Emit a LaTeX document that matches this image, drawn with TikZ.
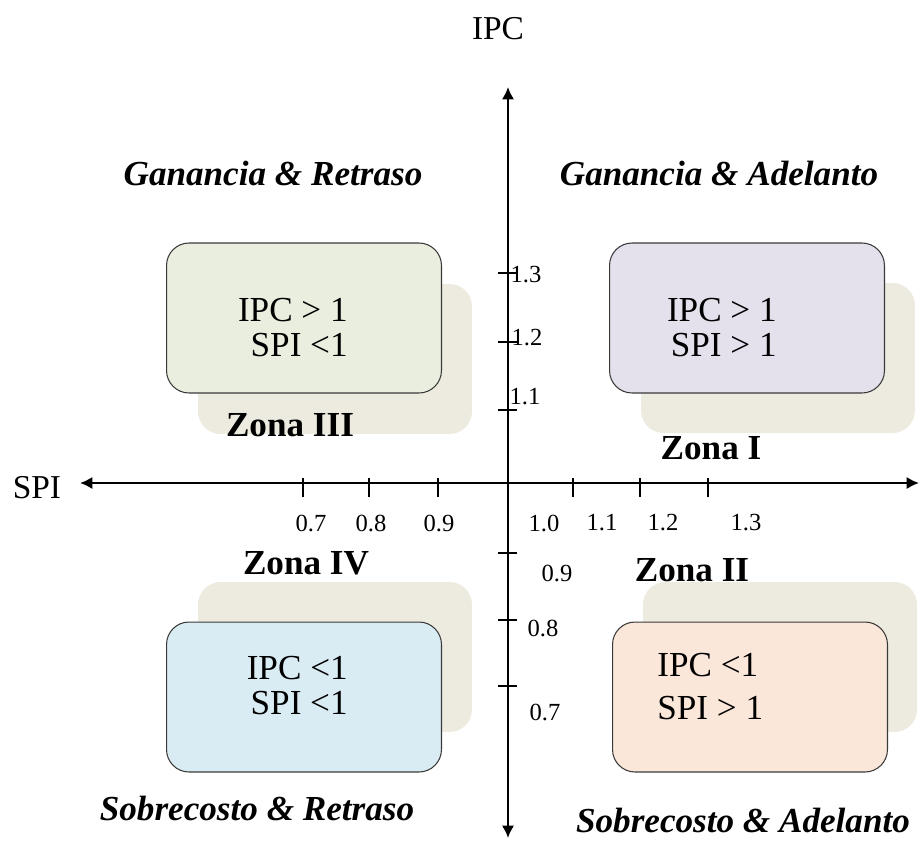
\documentclass[tikz,border=0pt]{standalone}
\usepackage{fontspec}
\setmainfont{Liberation Serif}
\usepackage{xcolor}
\definecolor{ZoneGreen}{HTML}{EAEEDE}
\definecolor{ZoneLilac}{HTML}{E4E0EC}
\definecolor{ZonePeach}{HTML}{FBE7D9}
\definecolor{ZoneSky}{HTML}{DAECF3}
\definecolor{ShadowBeige}{HTML}{EDEBE0}
\definecolor{EdgeGray}{HTML}{3A3A3A}
\usepackage{tikz}
\usetikzlibrary{arrows.meta, positioning, calc}
\tikzset{
  zonebox/.style={rectangle, rounded corners=0.45cm, draw=EdgeGray, line width=0.6pt, minimum width=5.5cm, minimum height=3cm},
  shadowbox/.style={rectangle, rounded corners=0.45cm, fill=ShadowBeige, minimum width=5.48cm, minimum height=3cm},
  condtext/.style={font=\fontsize{20}{20}\selectfont, inner sep=0pt},
  zonelabel/.style={font=\fontsize{20}{24}\selectfont\bfseries, inner sep=0pt},
  quadtitle/.style={font=\fontsize{20}{24}\selectfont\bfseries\itshape, inner sep=0pt},
  axislabel/.style={font=\fontsize{19}{22}\selectfont, inner sep=0pt},
  ticklabel/.style={font=\fontsize{14}{16}\selectfont, inner sep=0pt},
  axisline/.style={{Latex[length=7pt,width=7pt]}-{Latex[length=7pt,width=7pt]}, line width=1.3pt, black},
  tickline/.style={line width=0.7pt, black}
}

\begin{document}
\begin{tikzpicture}[x=0.02cm, y=-0.02cm]
  \useasboundingbox (0,0) rectangle (920,843);
  \fill[white] (0,0) rectangle (920,843);
  % shadows behind the zones
  \node[shadowbox] (s3) at (335,359) {};
  \node[shadowbox] (s1) at (778,358) {};
  \node[shadowbox] (s4) at (335,657) {};
  \node[shadowbox] (s2) at (780,657) {};
  % zone boxes
  \node[zonebox, fill=ZoneGreen] (z3) at (304,318) {};
  \node[zonebox, fill=ZoneLilac] (z1) at (747,318) {};
  \node[zonebox, fill=ZoneSky] (z4) at (304,697) {};
  \node[zonebox, fill=ZonePeach] (z2) at (750,697) {};
  % conditions
  \node[condtext, align=right, anchor=east] (c3) at (348,327.5) {IPC > 1\\ SPI <1};
  \node[condtext, align=right, anchor=east] (c1) at (777,327.5) {IPC > 1\\ SPI > 1};
  \node[condtext, align=right, anchor=east] (c4) at (348,685.5) {IPC <1\\ SPI <1};
  \node[condtext, align=left, anchor=west] (c2) at (657,686.5) {IPC <1\\[4.4pt] SPI > 1};
  % zone names
  \node[zonelabel] (n3) at (290,425) {Zona III};
  \node[zonelabel] (n1) at (711,448) {Zona I};
  \node[zonelabel] (n4) at (306,563) {Zona IV};
  \node[zonelabel] (n2) at (692,570) {Zona II};
  % quadrant titles
  \node[quadtitle] (q3) at (273,173) {Ganancia \& Retraso};
  \node[quadtitle] (q1) at (719,173) {Ganancia \& Adelanto};
  \node[quadtitle] (q4) at (257,808) {Sobrecosto \& Retraso};
  \node[quadtitle] (q2) at (743,820) {Sobrecosto \& Adelanto};
  % axes
  \coordinate (ytop) at (508,87);
  \coordinate (ybot) at (508,838);
  \coordinate (xleft) at (80,483);
  \coordinate (xright) at (919,483);
  \draw[axisline] (ybot) -- (ytop);
  \draw[axisline] (xleft) -- (xright);
  \node[axislabel] (ipc) at (498,29) {IPC};
  \node[axislabel] (spi) at (37,488) {SPI};
  % ticks
  \foreach \x in {303,369,438,573,640,708}
    \draw[tickline] (\x,478) -- (\x,497);
  \foreach \y in {273,342,410,553,620,686}
    \draw[tickline] (498,\y) -- (517,\y);
  \foreach \x/\t in {311/0.7, 371/0.8, 439/0.9, 544/1.0, 602/1.1, 663/1.2, 746/1.3}
    \node[ticklabel] at (\x,523) {\t};
  \foreach \px/\py/\t in {526/275/1.3, 527/338/1.2, 525/397/1.1, 557/573/0.9, 543/628/0.8, 545/712/0.7}
    \node[ticklabel] at (\px,\py) {\t};
\end{tikzpicture}
\end{document}
